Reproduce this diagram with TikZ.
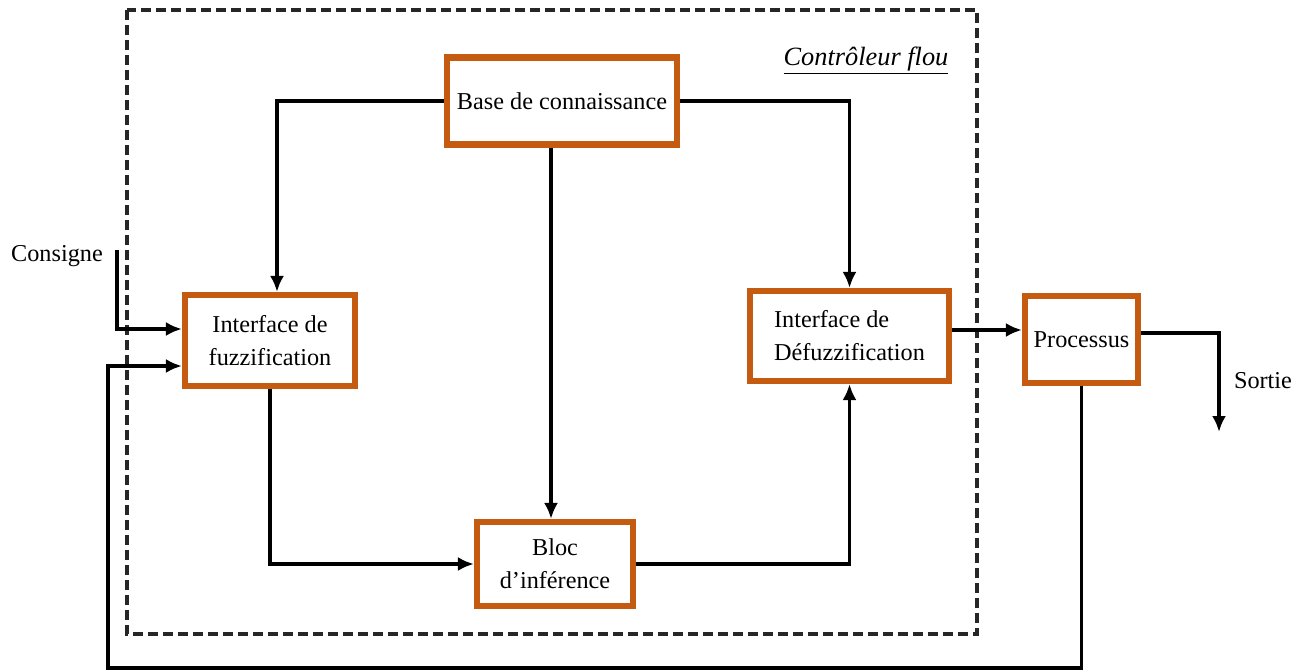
\documentclass[tikz,border=0pt]{standalone}
\usepackage{fontspec}
\setmainfont{Liberation Serif}
\usetikzlibrary{arrows.meta,calc}
\definecolor{boxorange}{RGB}{197,90,17}
\begin{document}
\begin{tikzpicture}[
  x=0.02cm, y=-0.02cm,
  block/.style={draw=boxorange, line width=3.5pt, fill=white, inner sep=2pt,
    font=\fontsize{13.8}{18.7}\selectfont, align=center},
  link/.style={line width=2pt, black, -{Latex[length=0.32cm,width=0.28cm]}},
  controller/.style={line width=2pt, black!85, dash pattern=on 0.2cm off 0.1cm},
  label/.style={font=\fontsize{13.8}{16}\selectfont}
]
  % Fix the page size
  \useasboundingbox (0,0) rectangle (1311,672);

  % Dashed frame of the fuzzy controller
  \draw[controller] (127,10) rectangle (977,634);
  \node[font=\fontsize{15}{18}\selectfont\itshape] (title) at (866,61)
    {\underline{Contrôleur flou}};

  % The blocks
  \node[block, minimum width=4.6cm, minimum height=1.74cm] (base) at (562,101)
    {Base de connaissance};
  \node[block, minimum width=3.4cm, minimum height=1.82cm] (fuzz) at (270,340.5)
    {Interface de\\fuzzification};
  \node[block, minimum width=3.12cm, minimum height=1.68cm] (bloc) at (555,564)
    {Bloc\\d'inférence};
  \node[block, minimum width=3.98cm, minimum height=1.8cm, align=left] (defuzz) at (849.5,336)
    {Interface de\\Défuzzification};
  \node[block, minimum width=2.26cm, minimum height=1.74cm] (proc) at (1081.5,339.5)
    {Processus};

  % Outer labels and free ends
  \node[label] (consigne) at (57,256) {Consigne};
  \node[label] (sortie) at (1263,381) {Sortie};
  \coordinate (cin) at (117,250);
  \coordinate (out) at (1219,432);
  \coordinate (fb) at (108,668);

  % Knowledge base to the three blocks
  \draw[link] (base.west) -| ([xshift=0.14cm]fuzz.north);
  \draw[link] (base.east) -| (defuzz.north);
  \draw[link] ([xshift=-0.08cm]bloc.north |- base.south) -- ([xshift=-0.08cm]bloc.north);

  % Main chain
  \draw[link] (fuzz.south) |- (bloc.west);
  \draw[link] (bloc.east) -| (defuzz.south);
  \draw[link] ([yshift=0.12cm]defuzz.east) -- ([yshift=0.12cm]defuzz.east -| proc.west);
  \draw[link] ([yshift=0.13cm]proc.east) -| (out);

  % Set point and feedback
  \draw[link] (cin) |- ([yshift=0.23cm]fuzz.west);
  \draw[link] (proc.south) |- (fb) |- ([yshift=-0.51cm]fuzz.west);

\end{tikzpicture}
\end{document}
